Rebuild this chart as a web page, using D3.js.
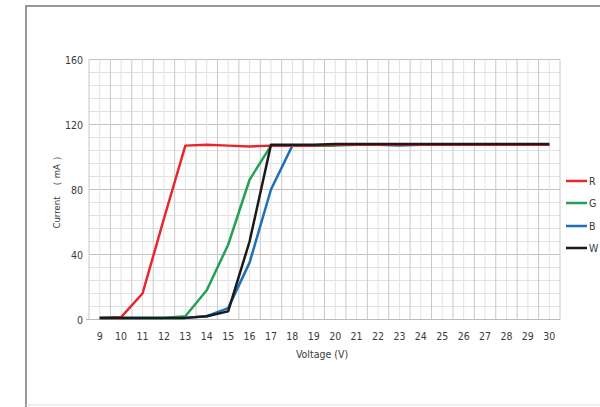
<!DOCTYPE html>
<html><head><meta charset="utf-8">
<script src="https://cdn.jsdelivr.net/npm/d3@7"></script>
<style>
body{margin:0;background:#fff;}
svg text{font-family:"Liberation Sans Narrow","DejaVu Sans Condensed","Liberation Sans",sans-serif;fill:#3a3a3a;}
</style></head>
<body><svg id="c" width="600" height="407"></svg>
<script>
const voltages = [9,10,11,12,13,14,15,16,17,18,19,20,21,22,23,24,25,26,27,28,29,30];
const seriesR = [1,1.5,16,62,107,107.5,107,106.5,107,107,107,107.5,107.5,107.5,107.5,107.5,107.5,107.5,107.5,107.5,107.5,107.5];
const seriesG = [1,1,1,1,2,18,46,86,107,107,107,107,107.5,107.5,107.5,107.5,107.5,107.5,107.5,107.5,107.5,107.5];
const seriesB = [1,1,1,1,1,2,7,35,80,107,107,107.5,107.5,107.5,107,107.5,107.5,107.5,107.5,107.5,107.5,107.5];
const seriesW = [1,1,1,1,1,2,5,48,107.5,107.5,107.5,108,108,108,108,108,108,108,108,108,108,108];
const seriesNames = ["R","G","B","W"];
const seriesColors = ["#e8262d","#23a257","#1f6fb5","#1a1a1a"];
const yTicks = [0,40,80,120,160];

const svg = d3.select("#c");
svg.append("path").attr("d","M26,407 L26,6 L600,6").attr("fill","none").attr("stroke","#777").attr("stroke-width",1.5);
svg.append("line").attr("x1",26).attr("x2",600).attr("y1",405).attr("y2",405).attr("stroke","#ddd");

const L=89, R=560, T=59.5, B=319.5;
const x = d3.scaleBand().domain(voltages).range([L,R]);
const xc = v => x(v)+x.bandwidth()/2;
const y = d3.scaleLinear().domain([0,160]).range([B,T]);

const g = svg.append("g");
d3.range(0,161,8).forEach(v=>{
  const major = v%40===0;
  g.append("line").attr("x1",L).attr("x2",R).attr("y1",y(v)).attr("y2",y(v))
   .attr("stroke",major?"#c2c2c2":"#e2e2e2").attr("stroke-width",1);
});
voltages.forEach(v=>{
  g.append("line").attr("x1",xc(v)).attr("x2",xc(v)).attr("y1",T).attr("y2",B).attr("stroke","#e2e2e2");
});
voltages.concat([null]).forEach((v,i)=>{
  const xx = L + i*x.bandwidth();
  g.append("line").attr("x1",xx).attr("x2",xx).attr("y1",T).attr("y2",B).attr("stroke","#c8c8c8");
});
g.append("line").attr("x1",L-3).attr("x2",R).attr("y1",B).attr("y2",B).attr("stroke","#bbb");

svg.selectAll(".yt").data(yTicks).enter().append("text")
  .attr("x",83).attr("y",d=>y(d)+4).attr("text-anchor","end").attr("font-size",10.5).text(d=>d);
svg.selectAll(".xt").data(voltages).enter().append("text")
  .attr("x",d=>xc(d)).attr("y",340).attr("text-anchor","middle").attr("font-size",10.5).text(d=>d);

svg.append("text").attr("x",322).attr("y",358).attr("text-anchor","middle").attr("font-size",10.5).text("Voltage (V)");
svg.append("text").attr("transform","translate(60,190) rotate(-90)").attr("text-anchor","middle")
  .attr("font-size",9.5).attr("xml:space","preserve").text("Current  （ mA ）");

const all = [seriesR,seriesG,seriesB,seriesW];
const line = d3.line().x((d,i)=>xc(voltages[i])).y(d=>y(d));
[2,1,0,3].forEach(k=>{
  svg.append("path").datum(all[k]).attr("d",line).attr("fill","none")
    .attr("stroke",seriesColors[k]).attr("stroke-width",2.5).attr("stroke-linejoin","round");
});

const ly = [181,203,226,248];
seriesNames.forEach((n,i)=>{
  svg.append("line").attr("x1",566).attr("x2",587).attr("y1",ly[i]).attr("y2",ly[i])
    .attr("stroke",seriesColors[i]).attr("stroke-width",2.5);
  svg.append("text").attr("x",589).attr("y",ly[i]+4).attr("font-size",10.5).text(n);
});
</script></body></html>
